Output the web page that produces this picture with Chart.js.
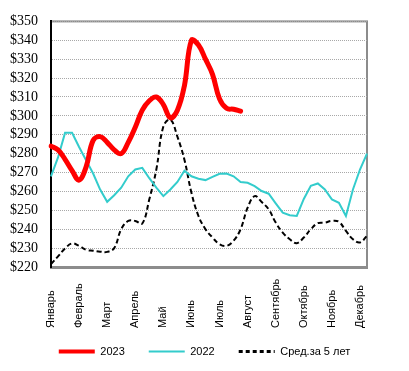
<!DOCTYPE html>
<html>
<head>
<meta charset="utf-8">
<script src="https://cdn.jsdelivr.net/npm/chart.js@4"></script>
<style>
  html, body { margin: 0; padding: 0; background: #fff; }
  #wrap { width: 409px; height: 371px; }
</style>
</head>
<body>
<div id="wrap"><canvas id="priceChart"></canvas></div>
<script>
// месяцы (подпись на каждой 4-й точке)
const MONTHS = ["Январь", "Февраль", "Март", "Апрель", "Май", "Июнь",
  "Июль", "Август", "Сентябрь", "Октябрь", "Ноябрь", "Декабрь"];

// 46 точек по оси X
const labels = Array.from({length: 46}, (_, i) => (i % 4 === 0 ? MONTHS[i / 4] : ""));

const data2023 = [284, 282, 277, 271, 266, 273, 287, 289, 286, 282,
  280, 286, 294, 303, 308, 310, 306, 299, 303, 316,
  340, 337.5, 330, 322, 309, 304, 303.5, 302.5];

const data2022 = [268, 278, 291, 291, 283.5, 276.5, 269.5, 261, 254.5, 258,
  262, 268, 271.6, 272.5, 267, 262, 257.5, 261, 265, 271,
  268, 266.7, 266, 267.7, 269.3, 269.5, 268, 265, 264.6, 262.8,
  260.2, 258.8, 253.7, 248.8, 247.4, 247, 256, 263, 264.2, 261,
  255.8, 254, 247, 261, 271.6, 280];

const dataAvg = [221.5, 225.6, 229.8, 232.5, 231.2, 229.1, 228.6, 228.1, 228, 230,
  240, 244.4, 244.4, 243, 255.8, 271.6, 294.4, 298, 289, 276.8,
  259.3, 247, 240, 235.6, 232.1, 231.2, 233.9, 240, 251.4, 257.5,
  254.4, 250.5, 243.5, 238.2, 234.7, 232.6, 235.6, 240, 243.2, 243.5,
  244.4, 243.9, 239.1, 234.7, 233, 236.5];

// рамка области построения (серая)
const frameBox = {
  id: "frameBox",
  beforeDraw(chart) {
    const {ctx, chartArea: a} = chart;
    ctx.save();
    ctx.strokeStyle = "#8c8c8c";
    ctx.lineWidth = 2;
    ctx.strokeRect(a.left, a.top, a.right - a.left, a.bottom - a.top);
    ctx.restore();
  }
};

// подписи месяцев: повернуты, выровнены по низу
const monthLabels = {
  id: "monthLabels",
  afterDraw(chart) {
    const {ctx} = chart;
    const xs = chart.scales.x;
    ctx.save();
    ctx.font = "11px 'Liberation Sans', Arial, sans-serif";
    ctx.fillStyle = "#000";
    ctx.textAlign = "left";
    ctx.textBaseline = "middle";
    labels.forEach((lab, i) => {
      if (!lab) return;
      ctx.save();
      ctx.translate(xs.getPixelForValue(i), 328);
      ctx.rotate(-Math.PI / 2);
      ctx.fillText(lab, 0, 0);
      ctx.restore();
    });
    ctx.restore();
  }
};

new Chart(document.getElementById("priceChart"), {
  type: "line",
  data: {
    labels: labels,
    datasets: [
      {
        label: "2023",
        data: data2023,
        borderColor: "#ff0000",
        backgroundColor: "#ff0000",
        borderWidth: 5,
        borderCapStyle: "round",
        tension: 0.4,
        pointRadius: 0,
        legendWidth: 4
      },
      {
        label: "2022",
        data: data2022,
        borderColor: "#33cccc",
        backgroundColor: "#33cccc",
        borderWidth: 2,
        tension: 0,
        pointRadius: 0,
        legendWidth: 2
      },
      {
        label: "Сред.за 5 лет",
        data: dataAvg,
        borderColor: "#000000",
        backgroundColor: "#000000",
        borderWidth: 2,
        borderDash: [5, 3],
        tension: 0.4,
        pointRadius: 0,
        legendWidth: 3,
        legendDash: [4, 3]
      }
    ]
  },
  options: {
    responsive: true,
    maintainAspectRatio: false,
    animation: false,
    layout: { padding: { top: 21, right: 0, bottom: 4, left: 0 } },
    plugins: {
      tooltip: { enabled: false },
      legend: {
        position: "bottom",
        labels: {
          usePointStyle: true,
          pointStyle: "line",
          pointStyleWidth: 36,
          padding: 24,
          color: "#000",
          font: { family: "'Liberation Sans', Arial, sans-serif", size: 11 },
          // пунктир в легенде не берётся из стиля точки, задаём сами
          generateLabels(chart) {
            const items = Chart.defaults.plugins.legend.labels.generateLabels(chart);
            items.forEach(it => {
              const ds = chart.data.datasets[it.datasetIndex];
              it.lineWidth = ds.legendWidth;
              it.strokeStyle = ds.borderColor;
              it.lineDash = ds.legendDash || [];
            });
            return items;
          }
        }
      }
    },
    scales: {
      x: {
        ticks: { display: false },
        grid: { display: false },
        border: { color: "#8c8c8c", width: 3 },
        afterFit(scale) { scale.height = 55; }
      },
      y: {
        min: 220,
        max: 350,
        ticks: {
          stepSize: 10,
          autoSkip: false,
          padding: 13,
          color: "#000",
          font: { family: "'Liberation Serif', 'Times New Roman', serif", size: 14 },
          callback: v => "$" + v
        },
        grid: { color: "#a8a8a8", drawTicks: false },
        border: { color: "#000", width: 2, dash: [1, 1] },
        afterFit(scale) { scale.width = 51; }
      },
      // пустая ось справа — только место под отступ
      y2: {
        position: "right",
        ticks: { display: false },
        grid: { display: false, drawTicks: false },
        border: { display: false },
        afterFit(scale) { scale.width = 42; }
      }
    }
  },
  plugins: [frameBox, monthLabels]
});
</script>
</body>
</html>
